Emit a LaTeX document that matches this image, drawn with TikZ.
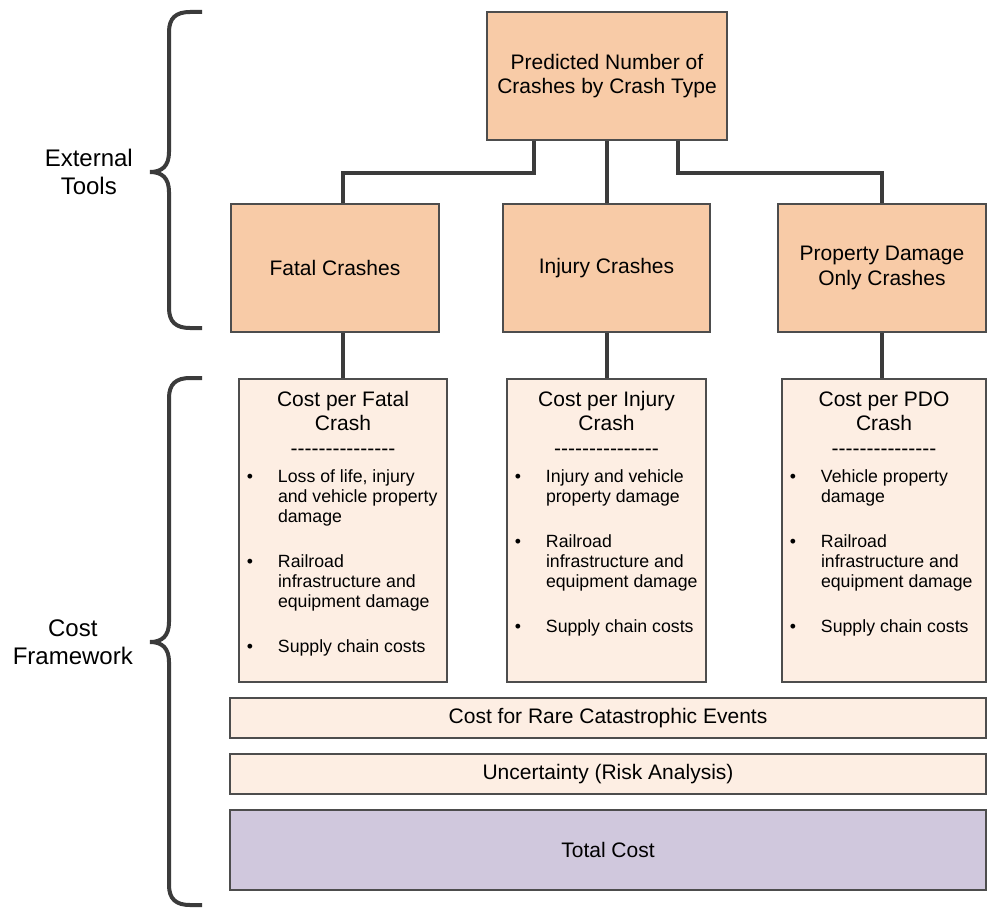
\documentclass[tikz,border=0pt]{standalone}
\usepackage{fontspec}
\setmainfont{Liberation Sans}
\usetikzlibrary{positioning}

\definecolor{crashorange}{HTML}{F8CBA7}
\definecolor{costpeach}{HTML}{FDEEE3}
\definecolor{totallilac}{HTML}{D0C8DD}
\definecolor{darkline}{HTML}{3B3B3B}
\definecolor{boxline}{HTML}{4D4D4D}

\newcommand{\headsize}{\fontsize{21}{24.5}\selectfont}
\newcommand{\itemsize}{\fontsize{17.7}{20}\selectfont}
\newcommand{\sidesize}{\fontsize{24}{28}\selectfont}
\newcommand{\onedash}{\mbox{-}}
\newcommand{\dashrow}{\onedash\onedash\onedash\onedash\onedash\onedash\onedash\onedash\onedash\onedash\onedash\onedash\onedash\onedash\onedash}

% one bullet line of a cost box
\newcommand{\costitem}[1]{\par\vspace{25pt}{\hangindent=39pt\hangafter=0\noindent\let\\\newline
  \llap{\makebox[22pt]{\textbullet}\hspace{17pt}}#1\par}}
% text of a cost box: width, crash kind, bullets
\newcommand{\costtext}[3]{\parbox[c][303pt][t]{#1}{\parskip=0pt\centering\headsize
  \rule{0pt}{27pt}Cost per #2\\Crash\\\dashrow\par
  \vspace{-18pt}\raggedright\itemsize #3}}

\begin{document}
\begin{tikzpicture}[x=1pt, y=-1pt,
  crashbox/.style={rectangle, draw=boxline, line width=1.3pt, fill=crashorange, align=center, font=\headsize, minimum height=128pt},
  costbox/.style={rectangle, draw=boxline, line width=1.3pt, fill=costpeach, inner sep=0pt},
  barbox/.style={rectangle, draw=boxline, line width=1.3pt, fill=costpeach, font=\headsize, minimum width=756pt},
  link/.style={draw=darkline, line width=4pt},
  brace/.style={draw=darkline, line width=4pt},
  side/.style={align=center, font=\sidesize, inner sep=0pt},
  ]
  \useasboundingbox (0,0) rectangle (987,907);

  %nodes
  \node at (607,76) [crashbox, minimum width=240pt] (predicted) {Predicted Number of\\Crashes by Crash Type};
  \node at (335,268) [crashbox, minimum width=208pt] (fatal) {Fatal Crashes};
  \node at (606.5,268) [crashbox, minimum width=207pt] (injury) {Injury Crashes};
  \node at (882,268) [crashbox, minimum width=208pt] (pdo) {Property Damage\\Only Crashes};

  \node at (343,530.5) [costbox] (costfatal) {\costtext{208pt}{Fatal}{%
    \costitem{Loss of life, injury\\and vehicle property\\damage}
    \costitem{Railroad\\infrastructure and\\equipment damage}
    \costitem{Supply chain costs}}};
  \node at (606.5,530.5) [costbox] (costinjury) {\costtext{199pt}{Injury}{%
    \costitem{Injury and vehicle\\property damage}
    \costitem{Railroad\\infrastructure and\\equipment damage}
    \costitem{Supply chain costs}}};
  \node at (884,530.5) [costbox] (costpdo) {\costtext{204pt}{PDO}{%
    \costitem{Vehicle property\\damage}
    \costitem{Railroad\\infrastructure and\\equipment damage}
    \costitem{Supply chain costs}}};

  \node at (608,718) [barbox, minimum height=40pt] (rare) {Cost for Rare Catastrophic Events};
  \node at (608,774) [barbox, minimum height=40pt] (uncertain) {Uncertainty (Risk Analysis)};
  \node at (608,850) [barbox, minimum height=80pt, fill=totallilac] (total) {Total Cost};

  %connectors
  \draw[link] ([xshift=-73pt]predicted.south) -- ++(0,32) -| (fatal.north -| costfatal.north);
  \draw[link] (predicted.south) -- (predicted.south |- injury.north);
  \draw[link] ([xshift=71pt]predicted.south) -- ++(0,32) -| (pdo.north);
  \draw[link] (fatal.south -| costfatal.north) -- (costfatal.north);
  \draw[link] (injury.south) -- (injury.south |- costinjury.north);
  \draw[link] (pdo.south) -- (pdo.south |- costpdo.north);

  %braces
  \draw[brace] (202,12) -- (190,12) .. controls (176,12) and (169,18) .. (169,32) -- (169,152)
    .. controls (169,166) and (162,172) .. (150,172) .. controls (162,172) and (169,178) .. (169,192)
    -- (169,308) .. controls (169,322) and (176,328) .. (190,328) -- (202,328);
  \coordinate (tooltip) at (150,172);
  \draw[brace] (202,378) -- (190,378) .. controls (176,378) and (169,384) .. (169,398) -- (169,622)
    .. controls (169,636) and (162,642) .. (150,642) .. controls (162,642) and (169,648) .. (169,662)
    -- (169,885) .. controls (169,899) and (176,905) .. (190,905) -- (202,905);
  \coordinate (costtip) at (150,642);

  \node[side, left=17pt of tooltip] (external) {External\\Tools};
  \node[side, left=17pt of costtip] (framework) {Cost\\Framework};
\end{tikzpicture}
\end{document}
